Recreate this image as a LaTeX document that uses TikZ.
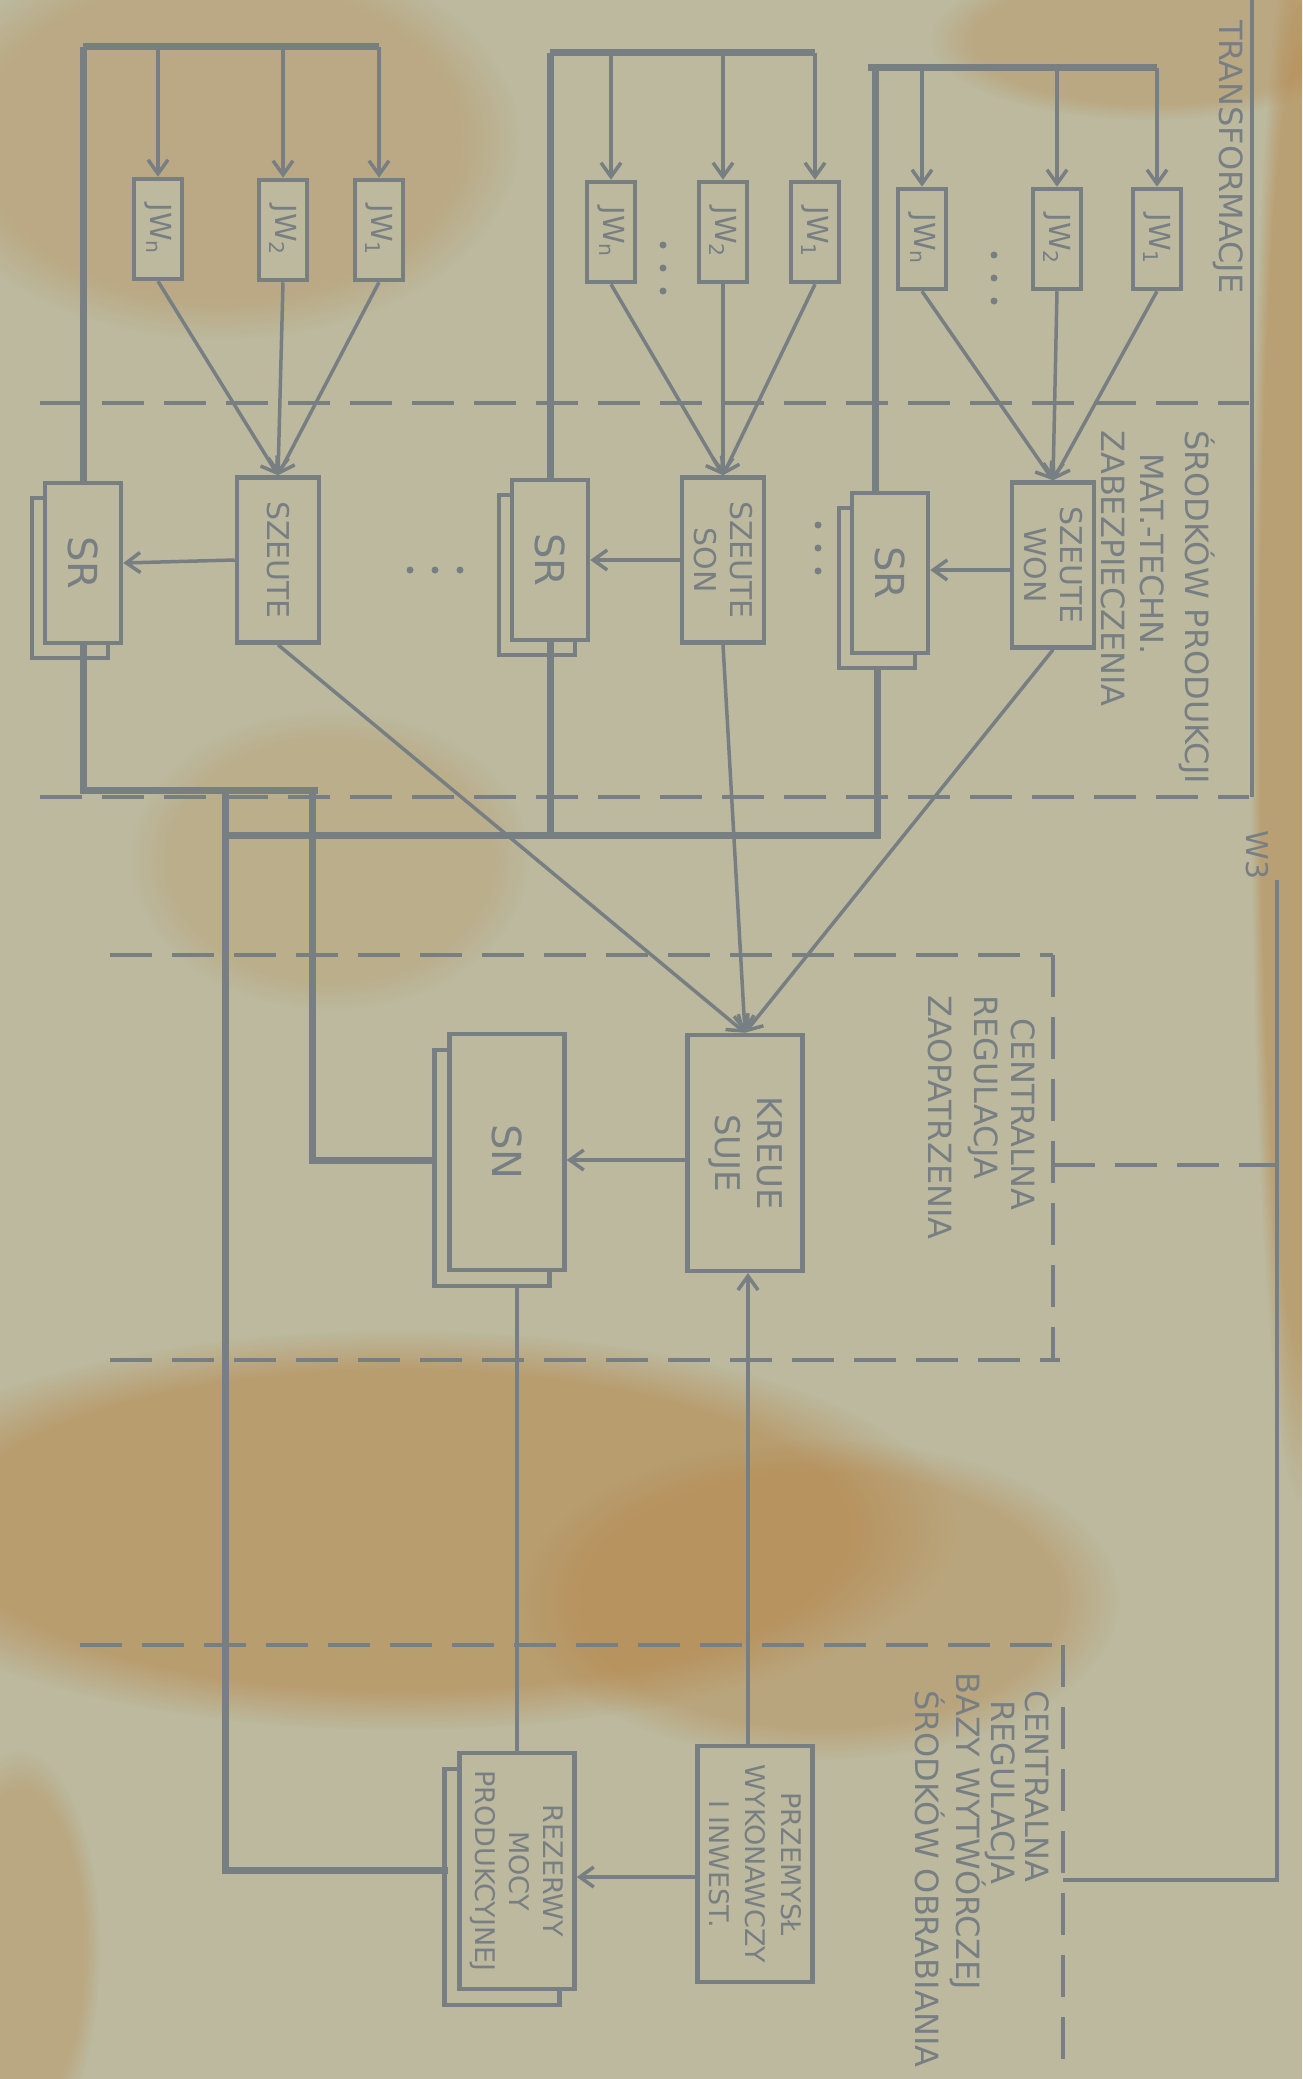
\documentclass[tikz,border=0pt]{standalone}
\usepackage{fontspec}
\setmainfont{DejaVu Sans}
\usetikzlibrary{arrows.meta,fadings,shadows,calc}
\definecolor{bg}{RGB}{188,185,158}
\definecolor{stain}{RGB}{182,130,66}
\definecolor{lc}{RGB}{120,127,131}
\begin{document}
\begin{tikzpicture}[x=1pt,y=-1pt,
  ln/.style={draw=lc,line width=4.5pt},
  bus/.style={draw=lc,line width=7pt},
  thn/.style={draw=lc,line width=3.5pt},
  sep/.style={draw=lc,line width=4pt,dash pattern=on 42pt off 20pt},
  arr/.style={-{Straight Barb[length=14pt,width=20pt,line width=3.5pt]}},
  bx/.style 2 args={draw=lc,line width=4.5pt,minimum width=#1,minimum height=#2,inner sep=0pt,fill=bg},
  jw/.style={bx={48pt}{100pt}},
  sz/.style={bx={82pt}{165pt}},
  sr/.style={bx={76pt}{160pt},copy shadow={shadow xshift=-13pt,shadow yshift=-15pt}},
  big/.style={bx={115pt}{236pt}},
  bigs/.style={bx={115pt}{236pt},copy shadow={shadow xshift=-15pt,shadow yshift=-16pt}},
  txt/.style={text=lc,font=\fontsize{30}{36}\selectfont,rotate=-90,align=center,inner sep=0pt},
  lab/.style={text=lc,font=\fontsize{32}{36}\selectfont,rotate=-90,anchor=west,inner sep=0pt},
  stxt/.style={text=lc,font=\fontsize{29}{30}\selectfont,rotate=-90,align=center,inner sep=0pt},
  dot/.style={fill=lc,circle,inner sep=0pt,minimum size=7pt}
]
\useasboundingbox (0,0) rectangle (1302,2079);
\clip (0,0) rectangle (1302,2079);
\fill[bg] (0,0) rectangle (1302,2079);

% ---------- stains (under the drawing) ----------
\fill[stain,opacity=0.5,path fading=circle with fuzzy edge 20 percent] (400,1530) ellipse (560 and 200);
\fill[stain,opacity=0.35,path fading=circle with fuzzy edge 20 percent] (820,1600) ellipse (300 and 160);
\fill[stain,opacity=0.28,path fading=circle with fuzzy edge 20 percent] (220,140) ellipse (300 and 200);
\fill[stain,opacity=0.45,path fading=circle with fuzzy edge 20 percent] (1300,700) ellipse (50 and 800);
\fill[stain,opacity=0.3,path fading=circle with fuzzy edge 20 percent] (1150,40) ellipse (220 and 80);
\fill[stain,opacity=0.2,path fading=circle with fuzzy edge 20 percent] (330,860) ellipse (200 and 150);
\fill[stain,opacity=0.3,path fading=circle with fuzzy edge 20 percent] (20,1950) ellipse (80 and 200);

% ---------- JW boxes ----------
\node[jw] (L1) at (158,229) {}; \node[jw] (L2) at (283,230) {}; \node[jw] (L3) at (379,230) {};
\node[jw] (M1) at (611,232) {}; \node[jw] (M2) at (723,232) {}; \node[jw] (M3) at (815,232) {};
\node[jw] (T1) at (922,239) {}; \node[jw] (T2) at (1057,239) {}; \node[jw] (T3) at (1157,239) {};
\foreach \n/\t in {L1/JW\textsubscript{n},L2/JW\textsubscript{2},L3/JW\textsubscript{1},
                   M1/JW\textsubscript{n},M2/JW\textsubscript{2},M3/JW\textsubscript{1},
                   T1/JW\textsubscript{n},T2/JW\textsubscript{2},T3/JW\textsubscript{1}}
  \node[stxt] at (\n) {\t};

% ---------- SZEF / SR boxes ----------
\node[sz] (SL) at (278,560) {};
\node[sz] (SM) at (723,560) {};
\node[sz] (ST) at (1053,565) {};
\node[txt] at (SL) {SZEUTE};
\node[txt] at (SM) {SZEUTE\\SON};
\node[txt] at (ST) {SZEUTE\\WON};
\node[sr] (RL) at (83,563) {};
\node[sr] (RM) at (550,560) {};
\node[sr] (RT) at (890,573) {};
\foreach \n in {RL,RM,RT} \node[txt,font=\fontsize{40}{40}\selectfont] at (\n) {SR};

% ---------- central boxes ----------
\node[big] (KR) at (745,1153) {};
\node[txt,font=\fontsize{34}{42}\selectfont] at (KR) {KREUE\\SUJE};
\node[bigs] (SN) at (507,1152) {};
\node[txt,font=\fontsize{40}{40}\selectfont] at (SN) {SN};
\node[bigs] (REZ) at (517,1871) {};
\node[txt,font=\fontsize{27}{34}\selectfont] at (REZ) {REZERWY\\MOCY\\PRODUKCYJNEJ};
\node[big] (PRZ) at (755,1864) {};
\node[txt,font=\fontsize{27}{36}\selectfont] at (PRZ) {PRZEMYSŁ\\WYKONAWCZY\\I INWEST.};

% ---------- group buses ----------
\draw[bus] (83,47) -- (379,47);
\draw[bus] (550,53) -- (815,53);
\draw[bus] (868,68) -- (1157,68);
\foreach \b/\y in {L1/47,L2/47,L3/47,M1/53,M2/53,M3/53,T1/68,T2/68,T3/68}
  \draw[ln,arr] (\b.north |- 0,\y) -- (\b.north);
\draw[bus] (83,47) -- (RL.north);
\draw[bus] (550,53) -- (RM.north);
\draw[bus] (875,68) -- (875,493);

% converging
\foreach \b in {L1,L2,L3} \draw[thn,arr] (\b.south) -- (SL.north);
\foreach \b in {M1,M2,M3} \draw[thn,arr] (\b.south) -- (SM.north);
\foreach \b in {T1,T2,T3} \draw[thn,arr] (\b.south) -- (ST.north);

% to SR
\draw[thn,arr] (SL.west) -- (RL.east);
\draw[thn,arr] (SM.west) -- (RM.east);
\draw[thn,arr] (ST.west |- 0,570) -- (RT.east |- 0,570);

% to KR
\draw[thn,arr] (SL.south) -- (KR.north);
\draw[thn,arr] (SM.south) -- (KR.north);
\draw[thn,arr] (ST.south) -- (KR.north);

% SR outputs and buses
\draw[bus] (RL.south) -- (83,790) -- (318,790);
\draw[bus] (RM.south) -- (550,835);
\draw[bus] (877,668) -- (877,835) -- (225,835);
\draw[bus] (225,790) -- (225,1870) -- (448,1870);
\draw[bus] (312,790) -- (312,1160) -- (432,1160);

\draw[thn,arr] (KR.west |- 0,1160) -- (SN.east |- 0,1160);
\draw[ln,arr] (748,1745) -- (748,1273);
\draw[ln] (517,1287) -- (517,1755);
\draw[thn,arr] (PRZ.west |- 0,1877) -- (REZ.east |- 0,1877);

% dots
\foreach \y in {525,548,571} \node[dot] at (818,\y) {};
\foreach \x in {410,435,460} \node[dot] at (\x,570) {};
\foreach \y in {255,278,301} \node[dot] at (994,\y) {};
\foreach \y in {245,268,291} \node[dot] at (663,\y) {};

% ---------- separators ----------
\draw[sep] (40,403) -- (1249,403);
\draw[sep] (40,797) -- (1249,797);
\draw[sep] (110,955) -- (1053,955);
\draw[sep] (110,1360) -- (1060,1360);
\draw[sep] (80,1645) -- (1063,1645);
\draw[sep] (1053,955) -- (1053,1360);
\draw[sep] (1053,1165) -- (1277,1165);
\draw[sep] (1063,1645) -- (1063,2079);

% ---------- right frame ----------
\draw[ln] (1252,0) -- (1252,797);
\draw[ln] (1277,880) -- (1277,1880) -- (1063,1880);

% ---------- labels ----------
\node[lab] at (1228,20) {TRANSFORMACJE};
\node[lab] at (1197,430) {ŚRODKÓW PRODUKCJI};
\node[lab] at (1152,453) {MAT.-TECHN.};
\node[lab] at (1113,430) {ZABEZPIECZENIA};
\node[txt] at (1257,855) {W3};
\node[lab] at (1023,1018) {CENTRALNA};
\node[lab] at (983,995) {REGULACJA};
\node[lab] at (940,995) {ZAOPATRZENIA};
\node[lab] at (1037,1690) {CENTRALNA};
\node[lab] at (1000,1700) {REGULACJA};
\node[lab] at (968,1672) {BAZY WYTWÓRCZEJ};
\node[lab] at (930,1690) {ŚRODKÓW OBRABIANIA};
\end{tikzpicture}
\end{document}
